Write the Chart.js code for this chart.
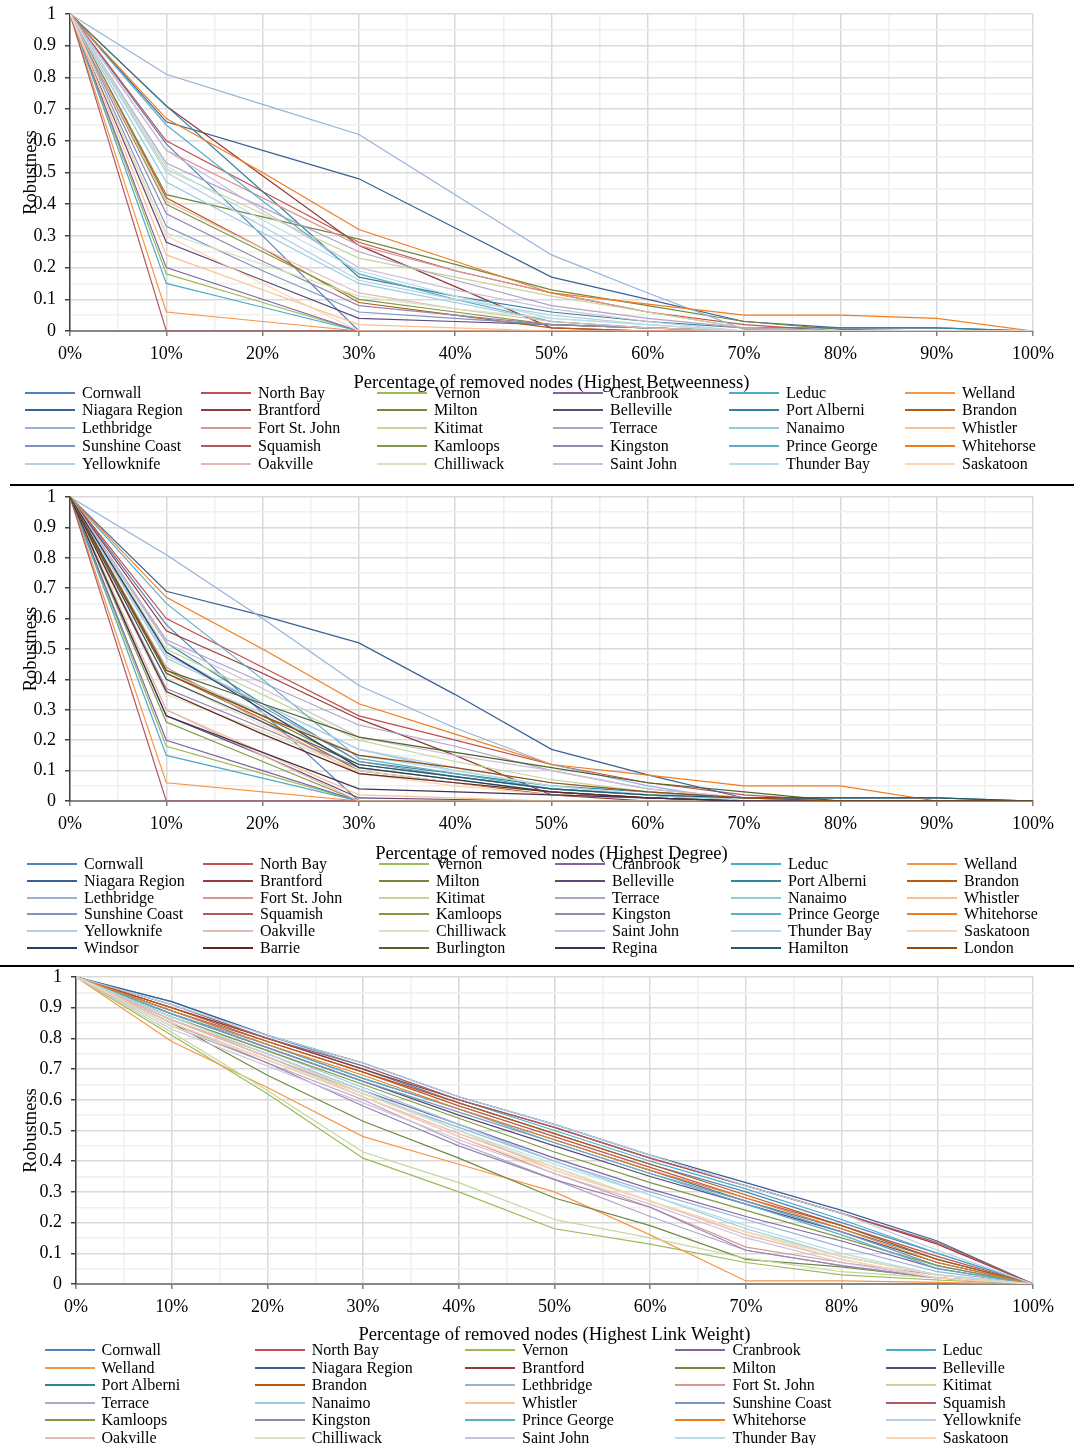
<!DOCTYPE html>
<html>
<head>
<meta charset="utf-8">
<script src="https://cdn.jsdelivr.net/npm/chart.js@4.4.1/dist/chart.umd.min.js"></script>
<style>
  html, body { margin: 0; padding: 0; background: #fff; }
  body { width: 1074px; height: 1445px; position: relative; overflow: hidden;
         font-family: "Liberation Serif", "Times New Roman", serif; }
  canvas { position: absolute; left: 0; }
  .rule { position: absolute; height: 2px; background: #000; }
  .legend-item { position: absolute; height: 18px; white-space: nowrap; font-size: 16px;
                 line-height: 18px; color: #000; z-index: 2; }
  .legend-item .swatch { position: absolute; left: 0; top: 8px; width: 50px; height: 2px; }
  .legend-item .name { position: absolute; left: 57px; top: 0; }
</style>
</head>
<body>
<script>
// Share of nodes removed (%)
const removedPct = [0, 10, 20, 30, 40, 50, 60, 70, 80, 90, 100];

const cityNames = [
  'Cornwall', 'North Bay', 'Vernon', 'Cranbrook', 'Leduc', 'Welland',
  'Niagara Region', 'Brantford', 'Milton', 'Belleville', 'Port Alberni', 'Brandon',
  'Lethbridge', 'Fort St. John', 'Kitimat', 'Terrace', 'Nanaimo', 'Whistler',
  'Sunshine Coast', 'Squamish', 'Kamloops', 'Kingston', 'Prince George', 'Whitehorse',
  'Yellowknife', 'Oakville', 'Chilliwack', 'Saint John', 'Thunder Bay', 'Saskatoon',
  'Windsor', 'Barrie', 'Burlington', 'Regina', 'Hamilton', 'London'
];

// Robustness when the highest-betweenness nodes are removed (one row per city)
const betweenness = [
  [1, 0.59, 0.30, 0, 0, 0, 0, 0, 0, 0, 0],
  [1, 0.60, 0.44, 0.28, 0.19, 0.12, 0.06, 0.02, 0, 0, 0],
  [1, 0.18, 0.09, 0, 0, 0, 0, 0, 0, 0, 0],
  [1, 0.20, 0.10, 0, 0, 0, 0, 0, 0, 0, 0],
  [1, 0.15, 0.075, 0, 0, 0, 0, 0, 0, 0, 0],
  [1, 0.06, 0.03, 0, 0, 0, 0, 0, 0, 0, 0],
  [1, 0.66, 0.57, 0.48, 0.325, 0.17, 0.10, 0.03, 0.01, 0.01, 0],
  [1, 0.71, 0.49, 0.27, 0.14, 0.01, 0, 0, 0, 0, 0],
  [1, 0.43, 0.36, 0.29, 0.21, 0.13, 0.08, 0.03, 0.005, 0, 0],
  [1, 0.28, 0.16, 0.04, 0.03, 0.02, 0.01, 0, 0, 0, 0],
  [1, 0.71, 0.44, 0.17, 0.11, 0.06, 0.03, 0.01, 0.01, 0.01, 0],
  [1, 0.42, 0.26, 0.09, 0.05, 0.01, 0, 0, 0, 0, 0],
  [1, 0.81, 0.715, 0.62, 0.43, 0.24, 0.12, 0.005, 0, 0, 0],
  [1, 0.57, 0.42, 0.27, 0.19, 0.12, 0.06, 0.01, 0, 0, 0],
  [1, 0.51, 0.37, 0.23, 0.17, 0.11, 0.06, 0.01, 0, 0, 0],
  [1, 0.53, 0.39, 0.25, 0.16, 0.08, 0.04, 0.01, 0, 0, 0],
  [1, 0.47, 0.31, 0.15, 0.09, 0.03, 0.01, 0, 0, 0, 0],
  [1, 0.24, 0.13, 0.02, 0.01, 0, 0, 0, 0, 0, 0],
  [1, 0.33, 0.19, 0.06, 0.04, 0.02, 0.01, 0, 0, 0, 0],
  [1, 0, 0, 0, 0, 0, 0, 0, 0, 0, 0],
  [1, 0.40, 0.25, 0.10, 0.06, 0.02, 0.01, 0, 0, 0, 0],
  [1, 0.37, 0.22, 0.08, 0.05, 0.02, 0.01, 0, 0, 0, 0],
  [1, 0.65, 0.41, 0.18, 0.10, 0.03, 0.01, 0, 0, 0, 0],
  [1, 0.67, 0.50, 0.32, 0.22, 0.12, 0.085, 0.05, 0.05, 0.04, 0],
  [1, 0.50, 0.33, 0.16, 0.10, 0.05, 0.02, 0, 0, 0, 0],
  [1, 0.41, 0.26, 0.12, 0.07, 0.03, 0.01, 0, 0, 0, 0],
  [1, 0.31, 0.21, 0.11, 0.07, 0.04, 0.02, 0, 0, 0, 0],
  [1, 0.57, 0.38, 0.20, 0.13, 0.07, 0.03, 0, 0, 0, 0],
  [1, 0.52, 0.35, 0.19, 0.11, 0.04, 0.02, 0, 0, 0, 0],
  [1, 0.30, 0.15, 0, 0, 0, 0, 0, 0, 0, 0]
];

// Robustness when the highest-degree nodes are removed
const degree = [
  [1, 0.58, 0.29, 0, 0, 0, 0, 0, 0, 0, 0],
  [1, 0.60, 0.44, 0.28, 0.20, 0.12, 0.06, 0.02, 0, 0, 0],
  [1, 0.18, 0.09, 0, 0, 0, 0, 0, 0, 0, 0],
  [1, 0.20, 0.10, 0, 0, 0, 0, 0, 0, 0, 0],
  [1, 0.15, 0.075, 0, 0, 0, 0, 0, 0, 0, 0],
  [1, 0.06, 0.03, 0, 0, 0, 0, 0, 0, 0, 0],
  [1, 0.69, 0.61, 0.52, 0.35, 0.17, 0.086, 0.01, 0.01, 0.01, 0],
  [1, 0.56, 0.42, 0.27, 0.15, 0.02, 0, 0, 0, 0, 0],
  [1, 0.43, 0.28, 0.12, 0.08, 0.04, 0.02, 0, 0, 0, 0],
  [1, 0.28, 0.15, 0.01, 0.005, 0, 0, 0, 0, 0, 0],
  [1, 0.52, 0.32, 0.13, 0.09, 0.05, 0.03, 0.01, 0, 0, 0],
  [1, 0.42, 0.27, 0.10, 0.06, 0.02, 0.01, 0, 0, 0, 0],
  [1, 0.81, 0.60, 0.38, 0.24, 0.12, 0.05, 0, 0, 0, 0],
  [1, 0.44, 0.26, 0.09, 0.06, 0.03, 0.01, 0, 0, 0, 0],
  [1, 0.50, 0.35, 0.20, 0.13, 0.07, 0.03, 0, 0, 0, 0],
  [1, 0.53, 0.39, 0.25, 0.18, 0.10, 0.04, 0.01, 0, 0, 0],
  [1, 0.47, 0.32, 0.17, 0.10, 0.05, 0.02, 0, 0, 0, 0],
  [1, 0.30, 0.16, 0.02, 0.01, 0, 0, 0, 0, 0, 0],
  [1, 0.49, 0.31, 0.13, 0.08, 0.04, 0.02, 0, 0, 0, 0],
  [1, 0, 0, 0, 0, 0, 0, 0, 0, 0, 0],
  [1, 0.26, 0.13, 0, 0, 0, 0, 0, 0, 0, 0],
  [1, 0.37, 0.24, 0.11, 0.07, 0.03, 0.01, 0, 0, 0, 0],
  [1, 0.65, 0.40, 0.14, 0.09, 0.04, 0.02, 0, 0, 0, 0],
  [1, 0.67, 0.50, 0.32, 0.22, 0.12, 0.085, 0.05, 0.05, 0, 0],
  [1, 0.48, 0.32, 0.17, 0.11, 0.06, 0.03, 0, 0, 0, 0],
  [1, 0.30, 0.15, 0, 0, 0, 0, 0, 0, 0, 0],
  [1, 0.35, 0.23, 0.10, 0.06, 0.03, 0.01, 0, 0, 0, 0],
  [1, 0.52, 0.37, 0.21, 0.15, 0.10, 0.04, 0.01, 0, 0, 0],
  [1, 0.42, 0.29, 0.15, 0.10, 0.05, 0.02, 0, 0, 0, 0],
  [1, 0.40, 0.25, 0.09, 0.05, 0.02, 0.01, 0, 0, 0, 0],
  [1, 0.49, 0.30, 0.11, 0.07, 0.03, 0.01, 0, 0, 0, 0],
  [1, 0.36, 0.22, 0.09, 0.06, 0.03, 0.01, 0, 0, 0, 0],
  [1, 0.43, 0.32, 0.21, 0.16, 0.11, 0.06, 0.03, 0, 0, 0],
  [1, 0.28, 0.16, 0.04, 0.03, 0.02, 0.01, 0, 0, 0, 0],
  [1, 0.40, 0.26, 0.12, 0.08, 0.04, 0.02, 0.01, 0.01, 0.01, 0],
  [1, 0.42, 0.28, 0.15, 0.11, 0.06, 0.03, 0.01, 0, 0, 0]
];

// Robustness when the nodes with the highest link weight are removed
const linkWeight = [
  [1, 0.90, 0.80, 0.70, 0.59, 0.49, 0.39, 0.30, 0.20, 0.10, 0],
  [1, 0.89, 0.79, 0.69, 0.58, 0.48, 0.38, 0.28, 0.19, 0.09, 0],
  [1, 0.81, 0.62, 0.41, 0.30, 0.18, 0.13, 0.07, 0.03, 0.013, 0],
  [1, 0.86, 0.75, 0.63, 0.52, 0.41, 0.31, 0.22, 0.14, 0.05, 0],
  [1, 0.92, 0.81, 0.71, 0.60, 0.50, 0.40, 0.31, 0.21, 0.10, 0],
  [1, 0.79, 0.64, 0.48, 0.39, 0.30, 0.16, 0.01, 0.01, 0.005, 0],
  [1, 0.92, 0.81, 0.72, 0.61, 0.52, 0.42, 0.33, 0.24, 0.14, 0],
  [1, 0.90, 0.80, 0.70, 0.60, 0.51, 0.41, 0.32, 0.23, 0.13, 0],
  [1, 0.85, 0.68, 0.53, 0.41, 0.28, 0.19, 0.08, 0.056, 0.02, 0],
  [1, 0.88, 0.77, 0.66, 0.55, 0.45, 0.35, 0.26, 0.17, 0.07, 0],
  [1, 0.89, 0.78, 0.67, 0.57, 0.47, 0.37, 0.27, 0.18, 0.08, 0],
  [1, 0.90, 0.79, 0.69, 0.59, 0.49, 0.39, 0.29, 0.19, 0.08, 0],
  [1, 0.86, 0.74, 0.62, 0.51, 0.40, 0.30, 0.21, 0.12, 0.04, 0],
  [1, 0.85, 0.73, 0.61, 0.48, 0.36, 0.25, 0.12, 0.07, 0.03, 0],
  [1, 0.82, 0.63, 0.43, 0.33, 0.21, 0.15, 0.084, 0.04, 0.02, 0],
  [1, 0.84, 0.72, 0.60, 0.46, 0.34, 0.22, 0.11, 0.06, 0.02, 0],
  [1, 0.87, 0.76, 0.64, 0.52, 0.40, 0.29, 0.18, 0.09, 0.03, 0],
  [1, 0.86, 0.75, 0.62, 0.50, 0.37, 0.27, 0.17, 0.09, 0.03, 0],
  [1, 0.88, 0.77, 0.66, 0.56, 0.46, 0.36, 0.27, 0.17, 0.06, 0],
  [1, 0.91, 0.80, 0.71, 0.60, 0.51, 0.41, 0.32, 0.23, 0.135, 0],
  [1, 0.87, 0.76, 0.65, 0.54, 0.43, 0.33, 0.24, 0.15, 0.06, 0],
  [1, 0.85, 0.72, 0.58, 0.45, 0.34, 0.25, 0.11, 0.06, 0.02, 0],
  [1, 0.88, 0.78, 0.67, 0.57, 0.46, 0.36, 0.26, 0.16, 0.05, 0],
  [1, 0.89, 0.78, 0.68, 0.57, 0.47, 0.37, 0.28, 0.18, 0.07, 0],
  [1, 0.91, 0.81, 0.72, 0.61, 0.52, 0.42, 0.32, 0.23, 0.11, 0],
  [1, 0.86, 0.74, 0.61, 0.49, 0.38, 0.27, 0.16, 0.08, 0.02, 0],
  [1, 0.84, 0.73, 0.62, 0.50, 0.38, 0.27, 0.17, 0.09, 0.03, 0],
  [1, 0.83, 0.71, 0.59, 0.47, 0.36, 0.26, 0.15, 0.07, 0.02, 0],
  [1, 0.87, 0.75, 0.63, 0.50, 0.39, 0.29, 0.19, 0.10, 0.03, 0],
  [1, 0.85, 0.73, 0.61, 0.48, 0.37, 0.27, 0.17, 0.08, 0.02, 0]
];

// Line colour of each city, in the same order as cityNames
const seriesColors = [
  '#4F81BD', '#C0504D', '#9BBB59', '#8064A2', '#4BACC6', '#F79646',
  '#3A6196', '#943A38', '#71893F', '#5C4776', '#31849B', '#B65A12',
  '#95B3D7', '#D99694', '#C3D69B', '#B3A2C7', '#93CDDD', '#FAC090',
  '#7A95C0', '#B05A60', '#7F9A45', '#9585B0', '#5EAFC6', '#F07D1C',
  '#B9CDE5', '#E6B9B8', '#D7E4BD', '#CCC1DA', '#B7DEE8', '#FCD5B5',
  '#254061', '#632523', '#4F6228', '#3F3151', '#215968', '#984807'
];

const FONT = "'Liberation Serif', 'Times New Roman', serif";
const W = 1074;

function isMultiple(v, step) {
  const q = v / step;
  return Math.abs(q - Math.round(q)) < 1e-6;
}

function buildPanel(cfg) {
  const canvas = document.createElement('canvas');
  canvas.width = W;
  canvas.height = cfg.height;
  canvas.style.top = cfg.top + 'px';
  document.body.appendChild(canvas);

  const datasets = cfg.values.map((row, i) => ({
    label: cityNames[i],
    data: row.map((v, k) => ({ x: removedPct[k], y: v })),
    borderColor: seriesColors[i],
    backgroundColor: seriesColors[i],
    borderWidth: 1.2,
    pointRadius: 0,
    pointHoverRadius: 0,
    tension: 0,
    fill: false,
    order: -i
  }));

  const plotTop = cfg.plotTop - cfg.top;
  const plotBottom = cfg.plotBottom - cfg.top;
  const titleCenter = cfg.titleY - cfg.top;
  const lh = 18.6 * 1.2;

  const chart = new Chart(canvas, {
    type: 'line',
    data: { datasets },
    options: {
      responsive: false,
      animation: false,
      devicePixelRatio: 1,
      events: [],
      layout: { padding: { left: 0, top: plotTop, right: W - cfg.plotRight, bottom: 0 } },
      plugins: { legend: { display: false }, tooltip: { enabled: false } },
      scales: {
        x: {
          type: 'linear', min: 0, max: 100,
          afterFit(s) {
            s.height = cfg.height - plotBottom;
            s.paddingLeft = 0; s.paddingRight = 0;
          },
          ticks: {
            stepSize: 5, autoSkip: false, maxRotation: 0, padding: 7,
            color: '#000', font: { family: FONT, size: 18 },
            callback: v => isMultiple(v, 10) ? Math.round(v) + '%' : ''
          },
          grid: {
            color: c => isMultiple(c.tick.value, 10) ? '#d9d9d9' : '#f0f0f0',
            lineWidth: 1.5,
            tickLength: 5,
            tickWidth: 1.5,
            tickColor: c => isMultiple(c.tick.value, 10) ? '#7f7f7f' : 'rgba(0,0,0,0)'
          },
          border: { color: '#868686', width: 2 },
          title: {
            display: true, text: cfg.xTitle, color: '#000',
            font: { family: FONT, size: 18.6 },
            padding: { top: 0, bottom: cfg.height - titleCenter - lh / 2 }
          }
        },
        y: {
          type: 'linear', min: 0, max: 1,
          afterFit(s) {
            s.width = cfg.plotLeft;
            s.paddingTop = 0; s.paddingBottom = 0;
          },
          ticks: {
            stepSize: 0.05, autoSkip: false, padding: 9,
            color: '#000', font: { family: FONT, size: 18 },
            callback: v => isMultiple(v, 0.1) ? String(Math.round(v * 10) / 10) : ''
          },
          grid: {
            color: c => isMultiple(c.tick.value, 0.1) ? '#d9d9d9' : '#f0f0f0',
            lineWidth: 1.5,
            tickLength: 5,
            tickWidth: 1.5,
            tickColor: c => isMultiple(c.tick.value, 0.1) ? '#404040' : 'rgba(0,0,0,0)'
          },
          border: { color: '#404040', width: 1.5 },
          title: {
            display: true, text: 'Robustness', color: '#000',
            font: { family: FONT, size: 18.6 },
            padding: { top: 31 - lh / 2, bottom: 0 }
          }
        }
      }
    }
  });

  // Legend built from the chart's own datasets, laid out row by row
  chart.data.datasets.forEach((ds, i) => {
    const row = Math.floor(i / cfg.legend.cols);
    const col = i % cfg.legend.cols;
    const item = document.createElement('div');
    item.className = 'legend-item';
    item.style.left = (cfg.legend.x0 + col * cfg.legend.dx) + 'px';
    item.style.top = (cfg.legend.y0 + row * cfg.legend.dy - 9) + 'px';
    const sw = document.createElement('span');
    sw.className = 'swatch';
    sw.style.background = ds.borderColor;
    const nm = document.createElement('span');
    nm.className = 'name';
    nm.textContent = ds.label;
    item.appendChild(sw);
    item.appendChild(nm);
    document.body.appendChild(item);
  });
  return chart;
}

function addRule(top, left, width) {
  const d = document.createElement('div');
  d.className = 'rule';
  d.style.top = top + 'px';
  d.style.left = left + 'px';
  d.style.width = width + 'px';
  document.body.appendChild(d);
}

buildPanel({
  values: betweenness, top: 0, height: 403,
  plotTop: 14, plotBottom: 331, plotLeft: 70, plotRight: 1033, titleY: 383,
  xTitle: 'Percentage of removed nodes (Highest Betweenness)',
  legend: { cols: 6, x0: 25, dx: 176, y0: 392.5, dy: 17.9 }
});

addRule(484, 10, 1064);

buildPanel({
  values: degree, top: 486, height: 388,
  plotTop: 497, plotBottom: 801, plotLeft: 70, plotRight: 1033, titleY: 854,
  xTitle: 'Percentage of removed nodes (Highest Degree)',
  legend: { cols: 6, x0: 27, dx: 176, y0: 864, dy: 16.75 }
});

addRule(965, 0, 1074);

buildPanel({
  values: linkWeight, top: 967, height: 388,
  plotTop: 977, plotBottom: 1284, plotLeft: 76, plotRight: 1033, titleY: 1335,
  xTitle: 'Percentage of removed nodes (Highest Link Weight)',
  legend: { cols: 5, x0: 44.5, dx: 210.3, y0: 1350, dy: 17.5 }
});
</script>
</body>
</html>
